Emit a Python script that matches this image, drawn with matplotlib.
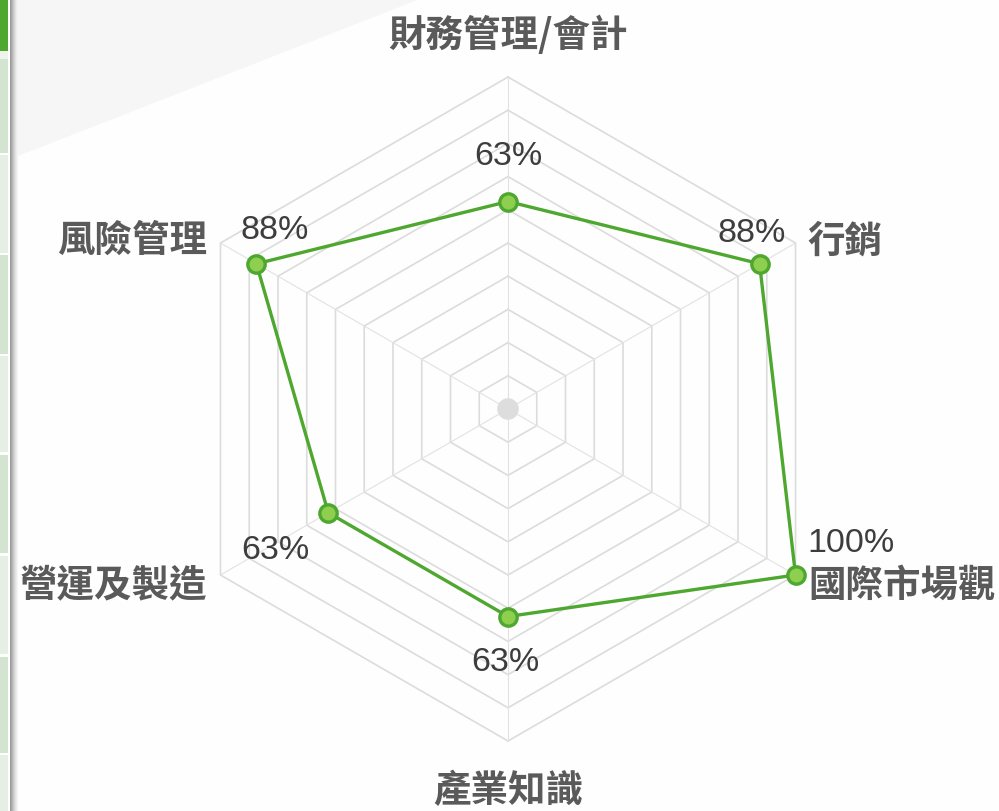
import numpy as np
import matplotlib.pyplot as plt
from matplotlib.patches import Polygon, Rectangle, Circle

# ---------------- data ----------------
categories = ['財務管理/會計', '行銷', '國際市場觀', '產業知識', '營運及製造', '風險管理']
scores = [62.5, 87.5, 100, 62.5, 62.5, 87.5]
score_labels = ['63%', '88%', '100%', '63%', '63%', '88%']
ring_levels = [10, 20, 30, 40, 50, 60, 70, 80, 90, 100]

# ---------------- layout ----------------
W, H = 999, 812
cx, cy = 508, 410          # centre of the radar in pixels
scale = 3.32               # pixels per percent

# label offsets in pixels (x right, y up)
cat_offsets = [(0, 43), (12, 3), (13, -9), (0, -49), (-13, -9), (-13, 4)]
cat_ha = ['center', 'left', 'left', 'center', 'right', 'right']
val_offsets = [(0, 46), (-8, 31), (55, 32), (-3, -45), (-53, -37), (18, 34)]

green_line = '#4ea72e'
green_fill = '#8fcf4f'
grid_col = '#dcdcdc'

fig = plt.figure(figsize=(W / 100, H / 100), dpi=100)
fig.patch.set_facecolor('#fefefe')

# background decorations (page strip and diagonal)
bg = fig.add_axes([0, 0, 1, 1], zorder=0)
bg.set_xlim(0, W)
bg.set_ylim(H, 0)
bg.axis('off')
bg.add_patch(Polygon([(18, 0), (420, 0), (18, 157)], closed=True, color='#f6f6f6', lw=0))
bg.add_patch(Rectangle((0, 0), 8, 52, color='#4ea72e', lw=0))
blocks = [(60, 154), (156, 254), (256, 355), (357, 453), (456, 554), (557, 655), (658, 754), (756, 812)]
for k, (y0, y1) in enumerate(blocks):
    c = '#d3e4d0' if k % 2 == 0 else '#e6efe4'
    bg.add_patch(Rectangle((0, y0), 8, y1 - y0, color=c, lw=0))
bg.add_patch(Rectangle((0, 52), 8, 8, color='#eef4ec', lw=0))
shade = ['#9c9c9c', '#a8a8a8', '#b8b8b8', '#c8c8c8', '#d6d6d6', '#e2e2e2', '#ececec', '#f4f4f4']
for k, c in enumerate(shade):
    bg.add_patch(Rectangle((10 + k, 0), 1, H, color=c, lw=0))

# radar axes
ax = fig.add_axes([0, 0, 1, 1], zorder=1)
ax.set_facecolor('none')
ax.set_xlim(-cx / scale, (W - cx) / scale)
ax.set_ylim(-(H - cy) / scale, cy / scale)
ax.set_aspect('equal')
ax.axis('off')

n = len(categories)
angles = np.arange(n) * 2 * np.pi / n
sx = np.sin(angles)
sy = np.cos(angles)

# rings
for lv in ring_levels:
    ax.plot(np.append(sx, sx[0]) * lv, np.append(sy, sy[0]) * lv, color=grid_col, lw=1.2, zorder=1)
# spokes
for i in range(n):
    ax.plot([0, sx[i] * ring_levels[-1]], [0, sy[i] * ring_levels[-1]], color='#e2e2e2', lw=0.8, zorder=1)
ax.add_patch(Circle((0, 0), 3.25, color='#dddddd', lw=0, zorder=2))

# data polygon
vals = np.array(scores)
px = sx * vals
py = sy * vals
ax.plot(np.append(px, px[0]), np.append(py, py[0]), color=green_line, lw=2.4, zorder=3)
ax.plot(px, py, 'o', ms=12.5, mfc=green_fill, mec=green_line, mew=2.4, zorder=4)

# value labels
for i in range(n):
    ax.annotate(score_labels[i], (px[i], py[i]), xytext=val_offsets[i], textcoords='offset pixels',
                ha='center', va='center', fontsize=24.5, color='#3d3d3d', family='Liberation Sans', zorder=5)

# category labels
for i in range(n):
    vx = sx[i] * ring_levels[-1]
    vy = sy[i] * ring_levels[-1]
    ax.annotate(categories[i], (vx, vy), xytext=cat_offsets[i], textcoords='offset pixels',
                ha=cat_ha[i], va='center', fontsize=27, fontweight='bold', color='#5a5a5a',
                family=['Noto Sans CJK TC', 'DejaVu Sans'], zorder=5)

fig.savefig('out.png', dpi=100, facecolor=fig.get_facecolor())
